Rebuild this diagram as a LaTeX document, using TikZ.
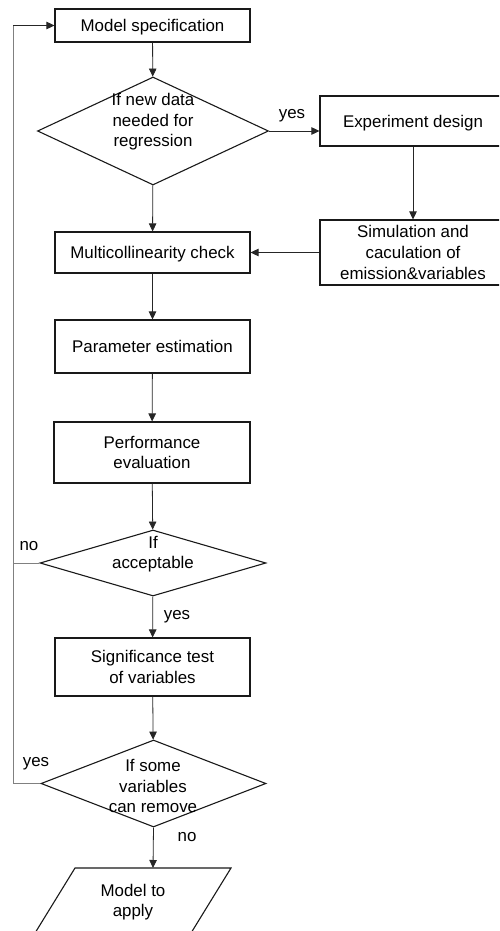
\documentclass[tikz,border=0pt]{standalone}
\usepackage{fontspec}
\setmainfont{Liberation Sans}
\usetikzlibrary{arrows.meta,shapes.geometric}
\begin{document}
\begin{tikzpicture}[x=1pt,y=-1pt,
  font=\fontsize{16.9}{20.6}\selectfont,
  box/.style={draw=black!90,line width=1.1pt,align=center,inner sep=0pt},
  oneline/.style={text depth=0pt},
  decision/.style={draw=black!90,line width=1.1pt,diamond,inner sep=0pt},
  flow/.style={draw=black!85,line width=0.8pt,-{Triangle[length=8pt,width=7.5pt]}},
  loopline/.style={draw=black!50,line width=0.9pt},
  lbl/.style={inner sep=0pt,align=center}]
\useasboundingbox (0,0) rectangle (499,931);
\clip (0,0) rectangle (499,931);

% main column
\node[box,oneline,minimum width=195,minimum height=33] (spec) at (152.5,25.5) {Model specification};
\node[decision,minimum width=231,minimum height=108] (d1) at (153,131) {};
\node[lbl] (d1t) at (153,122) {If new data\\needed for\\regression};
\node[box,oneline,minimum width=195,minimum height=41] (multi) at (152.5,252.5) {Multicollinearity check};
\node[box,oneline,minimum width=195,minimum height=53] (param) at (152.5,346.5) {Parameter estimation};
\node[box,minimum width=196,minimum height=61] (perf) at (152,452.5) {Performance\\evaluation};
\node[decision,minimum width=226,minimum height=66] (d2) at (153,563) {};
\node[lbl] (d2t) at (153,554) {If\\acceptable};
\node[box,minimum width=195,minimum height=58] (sig) at (152.5,667) {Significance test\\of variables};
\node[decision,minimum width=225,minimum height=87] (d3) at (153.5,783.5) {};
\node[lbl] (d3t) at (153,786) {If some\\variables\\can remove};

% right column
\node[box,oneline,minimum width=186,minimum height=50] (exp) at (413,121) {Experiment design};
\node[box,minimum width=186,minimum height=65] (sim) at (413,252.5) {Simulation and\\caculation of\\emission\&variables};

% output parallelogram
\coordinate (applytop) at (153,868);
\draw[line width=1.1pt,draw=black!90] (75,868) -- (231,868) -- ++(-61.5,100) -- ++(-156,0) -- cycle;
\node[lbl] (apply) at (133,902) {Model to\\apply};

% connectors
\draw[flow] (spec) -- (d1);
\draw[flow] (d1.east) -- (d1.east -| exp.west);
\draw[flow] (exp) -- (sim);
\draw[flow] (sim) -- (multi);
\draw[flow] (d1) -- (multi);
\draw[flow] (multi) -- (param);
\draw[flow] (param) -- (perf);
\draw[flow] (perf) -- (d2);
\draw[flow] (d2) -- (sig);
\draw[flow] (sig) -- (d3);
\draw[flow] (d3.south) -- (applytop);

% feedback loop on the left
\coordinate (loopx) at (13,0);
\draw[loopline] (d2.west) -- (d2.west -| loopx);
\draw[loopline] (d3.west) -- (d3.west -| loopx) -- (spec.west -| loopx);
\draw[flow] (spec.west -| loopx) -- (spec.west);

% branch labels
\node[lbl] (yes1) at (292,116) {yes};
\node[lbl] (no1) at (29,546) {no};
\node[lbl] (yes2) at (177,617) {yes};
\node[lbl] (yes3) at (36,764) {yes};
\node[lbl] (no2) at (187,837) {no};
\end{tikzpicture}
\end{document}
